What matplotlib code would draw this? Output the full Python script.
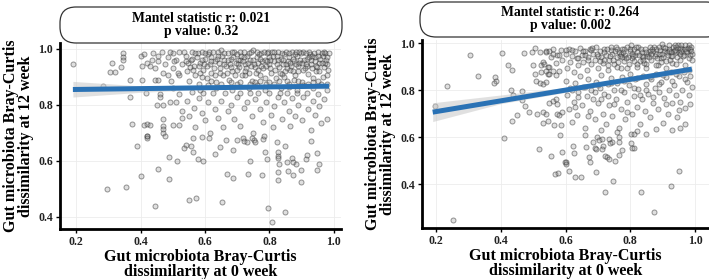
import matplotlib
matplotlib.use("Agg")
import matplotlib.pyplot as plt
from matplotlib.patches import FancyBboxPatch
import numpy as np

# ---------------- data ----------------
left_title = "Mantel statistic r: 0.021\np value: 0.32"
right_title = "Mantel statistic r: 0.264\np value: 0.002"
xlabel = "Gut microbiota Bray-Curtis\ndissimilarity at 0 week"
ylabel = "Gut microbiota Bray-Curtis\ndissimilarity at 12 week"
x_ticks = [0.2, 0.4, 0.6, 0.8, 1.0]
y_ticks = [0.4, 0.6, 0.8, 1.0]

left_pts = [
    # dense upper band
    (0.50,0.985),(0.50,0.93),(0.51,0.96),(0.52,0.99),(0.52,0.905),(0.53,0.945),(0.54,0.975),(0.545,0.92),(0.55,0.885),(0.555,0.96),
    (0.56,0.99),(0.565,0.94),(0.57,0.905),(0.575,0.97),(0.58,0.875),(0.585,0.95),(0.59,0.99),(0.595,0.925),(0.60,0.965),(0.605,0.895),
    (0.61,0.98),(0.615,0.945),(0.62,0.915),(0.625,0.99),(0.63,0.955),(0.635,0.88),(0.64,0.975),(0.645,0.93),(0.65,0.995),(0.655,0.905),
    (0.66,0.96),(0.665,0.94),(0.67,0.985),(0.675,0.89),(0.68,0.965),(0.685,0.92),(0.69,0.99),(0.695,0.95),(0.70,0.875),(0.70,0.98),
    (0.705,0.935),(0.71,0.96),(0.715,0.905),(0.72,0.99),(0.725,0.945),(0.73,0.975),(0.735,0.915),(0.74,0.96),(0.745,0.885),(0.75,0.995),
    (0.755,0.935),(0.76,0.97),(0.765,0.95),(0.77,0.905),(0.775,0.985),(0.78,0.93),(0.785,0.96),(0.79,0.875),(0.795,0.99),(0.80,0.945),
    (0.805,0.915),(0.81,0.975),(0.815,0.955),(0.82,0.895),(0.825,0.99),(0.83,0.935),(0.835,0.965),(0.84,0.91),(0.845,0.98),(0.85,0.945),
    (0.855,0.885),(0.86,0.97),(0.865,0.925),(0.87,0.99),(0.875,0.955),(0.88,0.905),(0.885,0.975),(0.89,0.94),(0.895,0.96),(0.90,0.88),
    (0.905,0.99),(0.91,0.93),(0.915,0.965),(0.92,0.91),(0.925,0.98),(0.93,0.945),(0.935,0.895),(0.94,0.97),(0.945,0.92),(0.95,0.99),
    (0.955,0.95),(0.96,0.875),(0.965,0.975),(0.97,0.935),(0.975,0.96),(0.98,0.905),(0.985,0.985),
    (0.505,0.955),(0.515,0.915),(0.535,0.99),(0.548,0.95),(0.562,0.925),(0.578,0.985),(0.592,0.96),(0.607,0.94),(0.618,0.97),(0.632,0.905),
    (0.642,0.95),(0.652,0.975),(0.668,0.915),(0.678,0.945),(0.688,0.97),(0.698,0.925),(0.708,0.99),(0.718,0.955),(0.728,0.93),(0.738,0.985),
    (0.748,0.96),(0.758,0.915),(0.768,0.98),(0.778,0.955),(0.788,0.94),(0.798,0.97),(0.808,0.99),(0.818,0.925),(0.828,0.96),(0.838,0.985),
    (0.848,0.92),(0.858,0.955),(0.868,0.94),(0.878,0.98),(0.888,0.92),(0.898,0.985),(0.908,0.96),(0.918,0.94),(0.928,0.96),(0.938,0.985),
    (0.948,0.935),(0.958,0.965),(0.968,0.99),(0.978,0.945),(0.983,0.925),
    (0.702,0.96),(0.722,0.97),(0.742,0.94),(0.762,0.99),(0.772,0.965),(0.792,0.985),(0.802,0.96),(0.822,0.975),(0.842,0.945),(0.852,0.99),
    (0.862,0.985),(0.872,0.965),(0.882,0.945),(0.892,0.99),(0.902,0.95),(0.912,0.985),(0.922,0.97),(0.932,0.975),(0.942,0.955),(0.952,0.975),
    (0.962,0.95),(0.972,0.985),(0.725,0.905),(0.755,0.88),(0.785,0.895),(0.815,0.875),(0.845,0.90),(0.875,0.89),(0.905,0.87),(0.935,0.88),
    (0.965,0.90),(0.62,0.955),(0.64,0.99),(0.66,0.985),(0.68,0.935),(0.60,0.985),(0.58,0.94),(0.56,0.965),(0.54,0.955),
    (0.552,0.935),(0.568,0.985),(0.583,0.915),(0.597,0.945),(0.612,0.99),(0.627,0.93),(0.638,0.965),(0.648,0.915),(0.658,0.945),(0.672,0.96),
    (0.683,0.99),(0.693,0.905),(0.703,0.945),(0.713,0.975),(0.723,0.92),(0.733,0.95),(0.743,0.99),(0.753,0.945),(0.763,0.925),(0.773,0.94),
    (0.783,0.99),(0.793,0.955),(0.803,0.93),(0.813,0.99),(0.823,0.945),(0.833,0.915),(0.843,0.96),(0.853,0.93),(0.863,0.95),(0.873,0.92),
    (0.883,0.99),(0.893,0.95),(0.903,0.925),(0.913,0.945),(0.923,0.99),(0.933,0.93),(0.943,0.94),(0.953,0.92),(0.963,0.985),(0.973,0.95),
    (0.98,0.97),(0.71,0.88),(0.74,0.875),(0.77,0.885),(0.80,0.88),(0.83,0.885),(0.86,0.875),(0.89,0.885),(0.92,0.875),(0.95,0.885),
    (0.98,0.875),(0.65,0.875),(0.62,0.885),(0.59,0.90),(0.68,0.88),
    # upper-left sparse
    (0.19,0.947),(0.345,0.985),(0.345,0.972),(0.347,0.96),(0.31,0.95),(0.305,0.918),(0.32,0.918),(0.34,0.936),(0.283,0.869),(0.367,0.89),
    (0.404,0.89),(0.40,0.975),(0.41,0.982),(0.404,0.94),(0.42,0.95),(0.43,0.94),(0.435,0.96),(0.445,0.93),(0.455,0.955),(0.44,0.985),
    (0.455,0.975),(0.465,0.99),(0.475,0.945),(0.485,0.97),(0.49,0.99),(0.445,0.89),(0.455,0.89),(0.47,0.915),(0.485,0.905),(0.495,0.885),
    # middle band
    (0.367,0.829),(0.417,0.843),(0.46,0.84),(0.46,0.828),(0.47,0.80),(0.49,0.81),(0.51,0.81),(0.45,0.80),(0.373,0.733),(0.41,0.73),
    (0.42,0.732),(0.43,0.728),(0.47,0.725),(0.47,0.715),(0.50,0.73),(0.52,0.728),(0.47,0.75),(0.53,0.752),(0.42,0.69),(0.47,0.70),
    (0.50,0.86),(0.52,0.84),(0.53,0.78),(0.545,0.815),(0.55,0.76),(0.56,0.845),(0.565,0.79),(0.57,0.72),(0.58,0.825),(0.59,0.77),
    (0.594,0.843),(0.60,0.745),(0.61,0.81),(0.615,0.70),(0.625,0.843),(0.63,0.785),(0.64,0.755),(0.65,0.815),(0.655,0.72),(0.662,0.843),
    (0.67,0.78),(0.68,0.80),(0.69,0.75),(0.70,0.83),(0.709,0.843),(0.71,0.725),(0.72,0.79),(0.73,0.81),(0.74,0.843),(0.745,0.76),
    (0.75,0.70),(0.755,0.82),(0.764,0.843),(0.77,0.785),(0.78,0.74),(0.79,0.81),(0.80,0.843),(0.805,0.765),(0.81,0.72),(0.815,0.795),
    (0.825,0.83),(0.833,0.843),(0.84,0.75),(0.845,0.81),(0.855,0.843),(0.86,0.78),(0.865,0.725),(0.87,0.825),(0.88,0.76),(0.885,0.843),
    (0.89,0.80),(0.90,0.745),(0.905,0.83),(0.916,0.843),(0.92,0.785),(0.93,0.71),(0.935,0.815),(0.94,0.765),(0.95,0.84),(0.955,0.795),
    (0.96,0.735),(0.97,0.82),(0.98,0.75),(0.98,0.855),(0.585,0.855),(0.635,0.86),(0.685,0.855),(0.735,0.86),(0.785,0.855),(0.835,0.86),
    (0.885,0.855),(0.935,0.86),(0.61,0.87),(0.76,0.87),(0.86,0.865),
    # lower sparse
    (0.421,0.690),(0.42,0.681),(0.477,0.688),(0.39,0.654),(0.564,0.683),(0.541,0.657),(0.535,0.645),(0.556,0.655),(0.564,0.633),(0.591,0.687),
    (0.487,0.614),(0.514,0.598),(0.578,0.607),(0.593,0.598),(0.455,0.571),(0.402,0.545),(0.487,0.536),(0.297,0.50),(0.355,0.507),(0.549,0.462),
    (0.572,0.467),(0.446,0.438),(0.613,0.681),(0.665,0.674),(0.698,0.676),(0.717,0.681),(0.721,0.671),(0.731,0.669),(0.745,0.683),(0.752,0.674),
    (0.755,0.667),(0.779,0.679),(0.783,0.688),(0.824,0.667),(0.847,0.655),(0.928,0.671),(0.647,0.651),(0.688,0.638),(0.632,0.624),(0.74,0.598),
    (0.785,0.633),(0.791,0.607),(0.828,0.631),(0.828,0.619),(0.826,0.610),(0.83,0.590),(0.853,0.595),(0.870,0.610),(0.872,0.595),(0.882,0.590),
    (0.913,0.607),(0.917,0.621),(0.948,0.627),(0.953,0.590),(0.669,0.553),(0.686,0.538),(0.734,0.555),(0.777,0.55),(0.828,0.562),(0.826,0.531),
    (0.859,0.564),(0.872,0.55),(0.897,0.568),(0.897,0.526),(0.948,0.567),(0.652,0.452),(0.795,0.433),(0.847,0.417),(0.807,0.383),
]

right_pts = [
    # dense upper band
    (0.52,0.96),(0.53,0.92),(0.54,0.965),(0.55,0.90),(0.555,0.94),(0.56,0.975),(0.57,0.915),(0.575,0.95),(0.58,0.88),(0.585,0.97),
    (0.59,0.93),(0.60,0.955),(0.605,0.895),(0.61,0.975),(0.615,0.92),(0.62,0.945),(0.625,0.875),(0.63,0.965),(0.635,0.935),(0.64,0.905),
    (0.645,0.98),(0.65,0.95),(0.655,0.92),(0.66,0.965),(0.665,0.885),(0.67,0.94),(0.675,0.975),(0.68,0.91),(0.685,0.955),(0.69,0.93),
    (0.695,0.985),(0.70,0.895),(0.705,0.965),(0.71,0.94),(0.715,0.915),(0.72,0.975),(0.725,0.95),(0.73,0.885),(0.735,0.93),(0.74,0.97),
    (0.745,0.955),(0.75,0.91),(0.755,0.985),(0.76,0.94),(0.765,0.96),(0.77,0.895),(0.775,0.975),(0.78,0.925),(0.785,0.95),(0.79,0.985),
    (0.795,0.91),(0.80,0.965),(0.805,0.935),(0.81,0.975),(0.815,0.95),(0.82,0.90),(0.825,0.985),(0.83,0.925),(0.835,0.96),(0.84,0.94),
    (0.845,0.975),(0.85,0.91),(0.855,0.955),(0.86,0.985),(0.865,0.93),(0.87,0.965),(0.875,0.945),(0.88,0.975),(0.885,0.905),(0.89,0.955),
    (0.895,0.935),(0.90,0.985),(0.905,0.965),(0.91,0.925),(0.915,0.95),(0.92,0.975),(0.925,0.945),(0.93,0.915),(0.935,0.965),(0.94,0.985),
    (0.945,0.94),(0.95,0.96),(0.955,0.93),(0.96,0.975),(0.965,0.95),(0.97,0.99),(0.975,0.96),(0.98,0.935),(0.985,0.975),(0.99,0.955),
    (0.752,0.965),(0.762,0.92),(0.772,0.955),(0.782,0.975),(0.792,0.94),(0.802,0.99),(0.812,0.925),(0.822,0.96),(0.832,0.975),(0.842,0.915),
    (0.852,0.945),(0.862,0.965),(0.872,0.985),(0.882,0.935),(0.892,0.97),(0.902,0.94),(0.912,0.96),(0.922,0.93),(0.932,0.985),(0.942,0.96),
    (0.952,0.98),(0.962,0.945),(0.972,0.965),(0.982,0.99),(0.988,0.965),(0.775,0.94),(0.805,0.955),(0.835,0.945),(0.865,0.955),(0.895,0.92),
    (0.925,0.96),(0.955,0.955),(0.985,0.95),(0.62,0.97),(0.64,0.935),(0.66,0.95),(0.68,0.97),(0.70,0.945),(0.72,0.93),(0.74,0.985),
    (0.60,0.97),(0.58,0.95),
    (0.653,0.965),(0.668,0.93),(0.683,0.98),(0.698,0.955),(0.708,0.925),(0.718,0.96),(0.728,0.975),(0.738,0.945),(0.748,0.93),(0.758,0.975),
    (0.768,0.945),(0.778,0.96),(0.788,0.935),(0.798,0.975),(0.808,0.945),(0.818,0.985),(0.828,0.95),(0.838,0.93),(0.848,0.96),(0.858,0.94),
    (0.868,0.975),(0.878,0.955),(0.888,0.985),(0.898,0.955),(0.908,0.98),(0.918,0.965),(0.928,0.945),(0.938,0.97),(0.948,0.99),(0.958,0.965),
    (0.968,0.975),(0.978,0.98),(0.988,0.985),(0.958,0.99),(0.938,0.99),(0.918,0.99),(0.898,0.995),(0.73,0.905),(0.76,0.90),(0.79,0.895),
    (0.82,0.91),(0.85,0.895),(0.88,0.905),(0.91,0.895),(0.94,0.91),(0.97,0.905),(0.99,0.93),
    # upper-left / left sparse
    (0.196,0.731),(0.234,0.816),(0.306,0.948),(0.33,0.858),(0.383,0.855),(0.385,0.837),(0.379,0.830),(0.404,0.959),(0.422,0.905),(0.435,0.885),
    (0.432,0.799),(0.437,0.78),(0.465,0.797),(0.465,0.759),(0.472,0.957),(0.496,0.962),(0.506,0.979),(0.50,0.905),(0.505,0.87),(0.51,0.84),
    (0.476,0.731),(0.486,0.706),(0.449,0.695),(0.435,0.667),(0.512,0.70),(0.53,0.705),(0.54,0.70),(0.53,0.66),(0.545,0.67),(0.52,0.83),
    (0.53,0.825),(0.54,0.835),(0.545,0.87),(0.56,0.88),(0.57,0.865),(0.55,0.745),(0.56,0.755),(0.57,0.76),(0.575,0.74),(0.575,0.70),
    (0.58,0.695),(0.59,0.705),(0.565,0.65),(0.585,0.652),(0.54,0.96),(0.55,0.965),(0.56,0.955),(0.525,0.905),(0.535,0.91),(0.545,0.90),
    (0.525,0.875),(0.54,0.88),(0.55,0.87),
    # middle band
    (0.60,0.84),(0.605,0.78),(0.61,0.72),(0.615,0.81),(0.62,0.665),(0.625,0.75),(0.63,0.83),(0.635,0.695),(0.64,0.79),(0.645,0.86),
    (0.65,0.735),(0.655,0.815),(0.66,0.64),(0.665,0.775),(0.67,0.845),(0.675,0.71),(0.68,0.80),(0.685,0.76),(0.69,0.675),(0.695,0.835),
    (0.70,0.745),(0.705,0.81),(0.71,0.865),(0.715,0.70),(0.72,0.785),(0.725,0.655),(0.73,0.825),(0.735,0.735),(0.74,0.85),(0.745,0.69),
    (0.75,0.80),(0.755,0.76),(0.76,0.83),(0.765,0.64),(0.77,0.72),(0.775,0.855),(0.78,0.79),(0.785,0.675),(0.79,0.75),(0.795,0.82),
    (0.80,0.87),(0.805,0.70),(0.81,0.775),(0.815,0.845),(0.82,0.73),(0.825,0.805),(0.83,0.655),(0.835,0.76),(0.84,0.86),(0.845,0.71),
    (0.85,0.825),(0.855,0.785),(0.86,0.685),(0.865,0.845),(0.87,0.745),(0.875,0.81),(0.88,0.87),(0.885,0.72),(0.89,0.79),(0.895,0.835),
    (0.90,0.66),(0.905,0.765),(0.91,0.855),(0.915,0.70),(0.92,0.80),(0.925,0.875),(0.93,0.745),(0.935,0.82),(0.94,0.78),(0.945,0.685),
    (0.95,0.86),(0.955,0.75),(0.96,0.80),(0.965,0.875),(0.97,0.725),(0.975,0.835),(0.98,0.78),(0.985,0.86),(0.99,0.815),(0.955,0.64),
    (0.97,0.655),(0.93,0.63),(0.88,0.635),(0.82,0.625),(0.76,0.62),(0.71,0.63),(0.66,0.61),
    (0.62,0.80),(0.66,0.815),(0.70,0.82),(0.74,0.83),(0.78,0.84),(0.82,0.85),(0.86,0.855),(0.90,0.865),(0.94,0.87),(0.98,0.885),
    (0.64,0.77),(0.69,0.79),(0.73,0.775),(0.77,0.80),(0.81,0.81),(0.85,0.80),(0.89,0.825),(0.93,0.84),(0.97,0.845),
    (0.63,0.73),(0.67,0.69),(0.71,0.76),(0.75,0.74),(0.79,0.705),(0.83,0.78),(0.87,0.77),(0.91,0.74),(0.95,0.715),(0.985,0.74),
    # lower sparse
    (0.409,0.596),(0.584,0.61),(0.519,0.549),(0.554,0.52),(0.589,0.535),(0.599,0.492),(0.568,0.441),(0.577,0.447),(0.252,0.245),
    (0.624,0.563),(0.626,0.532),(0.662,0.557),(0.600,0.492),(0.603,0.486),(0.610,0.454),(0.628,0.430),(0.648,0.430),(0.672,0.515),(0.677,0.492),
    (0.686,0.58),(0.690,0.553),(0.693,0.549),(0.698,0.60),(0.703,0.589),(0.713,0.591),(0.716,0.563),(0.713,0.549),(0.721,0.52),(0.727,0.515),
    (0.734,0.506),(0.694,0.45),(0.734,0.59),(0.744,0.578),(0.737,0.575),(0.765,0.60),(0.766,0.577),(0.775,0.543),(0.765,0.525),(0.752,0.497),
    (0.747,0.411),(0.721,0.367),(0.801,0.574),(0.806,0.553),(0.813,0.553),(0.801,0.614),(0.813,0.614),(0.85,0.614),(0.832,0.365),(0.873,0.28),
    (0.926,0.393),(0.951,0.454),
]

# fitted line and confidence band
left_fit_x = [0.19, 0.985]
left_fit_y = [0.855, 0.867]
left_band_x = [0.19, 0.40, 0.60, 0.80, 0.985]
left_band_lo = [0.828, 0.845, 0.855, 0.859, 0.857]
left_band_hi = [0.884, 0.868, 0.866, 0.870, 0.877]

right_fit_x = [0.19, 0.99]
right_fit_y = [0.706, 0.889]
right_band_x = [0.19, 0.40, 0.60, 0.80, 0.99]
right_band_lo = [0.666, 0.742, 0.790, 0.836, 0.875]
right_band_hi = [0.746, 0.779, 0.811, 0.855, 0.903]

# ---------------- figure ----------------
W, H = 709, 279
fig = plt.figure(figsize=(W / 100, H / 100), dpi=100)
serif = ["Liberation Serif", "DejaVu Serif"]

def add_panel(px0, px1, py_top, py_bot, xlim, ylim, pts, fx, fy, bx, blo, bhi):
    ax = fig.add_axes([px0 / W, 1 - py_bot / H, (px1 - px0) / W, (py_bot - py_top) / H])
    ax.set_xlim(*xlim)
    ax.set_ylim(*ylim)
    ax.set_xticks(x_ticks)
    ax.set_yticks(y_ticks)
    ax.set_xticklabels([f"{v:.1f}" for v in x_ticks])
    ax.set_yticklabels([f"{v:.1f}" for v in y_ticks])
    ax.grid(True, color="#ececec", linewidth=0.6)
    ax.set_axisbelow(True)
    for s in ["top", "right"]:
        ax.spines[s].set_visible(False)
    for s in ["left", "bottom"]:
        ax.spines[s].set_linewidth(2.0)
        ax.spines[s].set_color("black")
    ax.tick_params(axis="both", direction="out", length=3, width=1, color="black",
                   labelsize=8.5, pad=2)
    for lab in ax.get_xticklabels() + ax.get_yticklabels():
        lab.set_fontfamily(serif)
        lab.set_fontweight("bold")
        lab.set_color("#222222")
    xs = [p[0] for p in pts]
    ys = [p[1] for p in pts]
    ax.scatter(xs, ys, s=13, facecolor=(0.5, 0.5, 0.5, 0.25),
               edgecolor=(0.2, 0.2, 0.2, 0.5), linewidths=0.7, zorder=2)
    ax.fill_between(bx, blo, bhi, color="#c8c8c8", alpha=0.55, linewidth=0, zorder=3)
    ax.plot(fx, fy, color="#2a72b5", linewidth=3.6, solid_capstyle="butt", zorder=4)
    ax.set_xlabel(xlabel, fontfamily=serif, fontweight="bold", fontsize=11.5,
                  labelpad=1, linespacing=0.85)
    ax.set_ylabel(ylabel, fontfamily=serif, fontweight="bold", fontsize=11.5,
                  labelpad=3, linespacing=0.95)
    return ax

axL = add_panel(60, 341, 43, 229, (0.150, 1.022), (0.357, 1.021), left_pts,
                left_fit_x, left_fit_y, left_band_x, left_band_lo, left_band_hi)
axR = add_panel(422, 709, 40, 228, (0.157, 1.043), (0.213, 1.013), right_pts,
                right_fit_x, right_fit_y, right_band_x, right_band_lo, right_band_hi)

# title boxes (pixel-based, via inch transform)
def title_box(x0, x1, ytop, ybot, cx, text):
    box = FancyBboxPatch((x0 / 100, (H - ybot) / 100), (x1 - x0) / 100, (ybot - ytop) / 100,
                         boxstyle="round,pad=0,rounding_size=0.16",
                         transform=fig.dpi_scale_trans, facecolor="white",
                         edgecolor="#333333", linewidth=0.9, clip_on=False)
    fig.add_artist(box)
    fig.text(cx / W, 1 - ((ytop + ybot) / 2) / H, text, ha="center", va="center",
             fontfamily=serif, fontweight="bold", fontsize=9.8, linespacing=1.0)

title_box(60, 342, 7, 43, 201, left_title)
title_box(420, 722, 2, 37, 570, right_title)

fig.savefig("out.png", dpi=100, facecolor="white")
